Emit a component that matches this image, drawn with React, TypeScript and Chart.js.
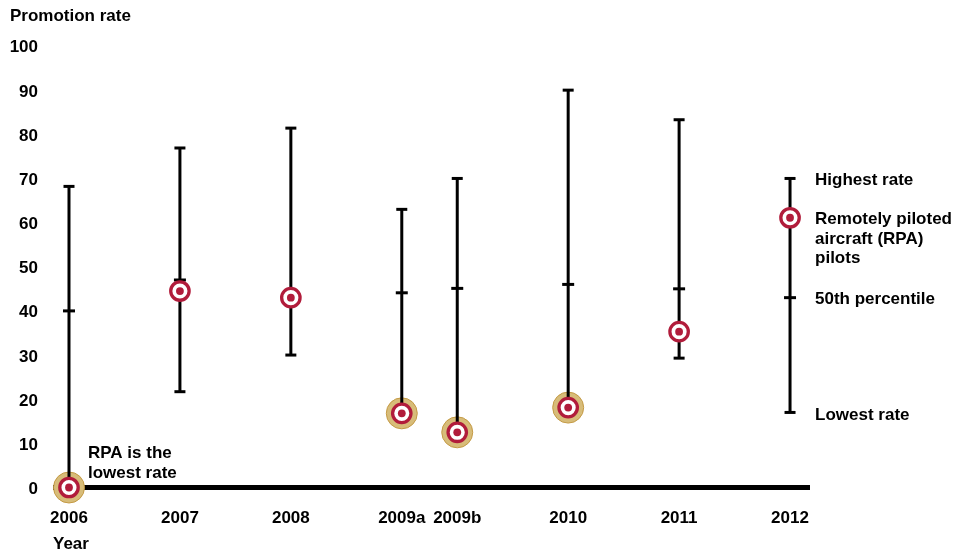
import { useEffect, useRef } from 'react';
import { Chart, registerables } from 'chart.js';

Chart.register(...registerables);

// ---- data ----
const categories = ['2006', '2007', '2008', '2009a', '2009b', '2010', '2011', '2012'];
const xPositions = [0, 1, 2, 3, 3.5, 4.5, 5.5, 6.5];
const highestRate = [68.2, 76.9, 81.4, 63.0, 70.0, 90.0, 83.3, 70.0];
const medianRate = [40.0, 47.0, 43.0, 44.1, 45.1, 46.0, 45.0, 43.0];
const lowestRate = [0, 21.7, 30.0, 16.8, 12.5, 18.1, 29.3, 17.0];
const rpaRate = [0, 44.5, 43.0, 16.8, 12.5, 18.1, 35.3, 61.1];
const rpaIsLowest = [true, false, false, true, true, true, false, false];
const yTicks = [0, 10, 20, 30, 40, 50, 60, 70, 80, 90, 100];

const legendLabels = {
  high: 'Highest rate',
  rpa: ['Remotely piloted', 'aircraft (RPA)', 'pilots'],
  median: '50th percentile',
  low: 'Lowest rate',
};
const annotationLines = ['RPA is the', 'lowest rate'];

const FONT = "'Liberation Sans', Arial, sans-serif";
const RED = '#b11c3b';
const HALO = '#d7bc79';
const HALO_EDGE = '#c49a45';

export default function App() {
  const ref = useRef<HTMLCanvasElement>(null);

  useEffect(() => {
    document.body.style.margin = '0';
    document.body.style.overflow = 'hidden';
    const canvas = ref.current;
    if (!canvas) return;

    const pts = (vals: number[]) => xPositions.map((x, i) => ({ x, y: vals[i] }));
    const rangeLine: { x: number; y: number | null }[] = [];
    xPositions.forEach((x, i) => {
      rangeLine.push({ x, y: lowestRate[i] }, { x, y: highestRate[i] }, { x, y: null });
    });
    const capPoints = [...pts(highestRate), ...pts(lowestRate)];
    const haloPoints = xPositions
      .map((x, i) => ({ x, y: rpaRate[i] }))
      .filter((_, i) => rpaIsLowest[i]);

    const legendIndex = categories.length - 1;
    const xMin = -0.1442;
    const xMax = 6.68;

    const textPlugin = {
      id: 'texts',
      afterDatasetsDraw(chart: any) {
        const { ctx, scales } = chart;
        const xs = scales.x;
        const ys = scales.y;
        const dy = 1.8;
        ctx.save();
        ctx.fillStyle = '#000';
        ctx.font = `bold 17px ${FONT}`;
        ctx.textBaseline = 'middle';
        ctx.textAlign = 'left';
        const lx = xs.getPixelForValue(xPositions[legendIndex]) + 25;
        ctx.fillText(legendLabels.high, lx, ys.getPixelForValue(highestRate[legendIndex]) + dy);
        const ry = ys.getPixelForValue(rpaRate[legendIndex]) + dy;
        legendLabels.rpa.forEach((t, i) => ctx.fillText(t, lx, ry + i * 19.5));
        ctx.fillText(legendLabels.median, lx, ys.getPixelForValue(medianRate[legendIndex]) + dy);
        ctx.fillText(legendLabels.low, lx, ys.getPixelForValue(lowestRate[legendIndex]) + dy + 1);
        const ax = xs.getPixelForValue(xPositions[0]) + 19;
        const zy = ys.getPixelForValue(0);
        ctx.fillText(annotationLines[0], ax, zy - 34);
        ctx.fillText(annotationLines[1], ax, zy - 14.5);
        ctx.restore();
      },
    };

    const chart = new Chart(canvas, {
      type: 'scatter',
      data: {
        datasets: [
          {
            type: 'scatter',
            label: 'dot',
            data: pts(rpaRate),
            pointRadius: 3.9,
            pointBackgroundColor: RED,
            pointBorderWidth: 0,
            order: 0,
            clip: false,
          } as any,
          {
            type: 'scatter',
            label: 'rpa',
            data: pts(rpaRate),
            pointRadius: 9.2,
            pointBackgroundColor: '#fff',
            pointBorderColor: RED,
            pointBorderWidth: 3.3,
            order: 1,
            clip: false,
          },
          {
            type: 'scatter',
            label: 'median',
            data: pts(medianRate),
            pointStyle: 'line',
            pointRadius: 6,
            pointBorderColor: '#000',
            pointBorderWidth: 3,
            order: 2,
            clip: false,
          },
          {
            type: 'scatter',
            label: 'caps',
            data: capPoints,
            pointStyle: 'line',
            pointRadius: 5.5,
            pointBorderColor: '#000',
            pointBorderWidth: 3,
            order: 3,
            clip: false,
          },
          {
            type: 'line',
            label: 'range',
            data: rangeLine,
            borderColor: '#000',
            borderWidth: 3,
            pointRadius: 0,
            spanGaps: false,
            order: 4,
            clip: false,
          } as any,
          {
            type: 'scatter',
            label: 'halo',
            data: haloPoints,
            pointRadius: 15.5,
            pointBackgroundColor: HALO,
            pointBorderColor: HALO_EDGE,
            pointBorderWidth: 1,
            order: 5,
            clip: false,
          },
          {
            type: 'line',
            label: 'baseline',
            data: [
              { x: xMin, y: 0 },
              { x: xMax, y: 0 },
            ],
            borderColor: '#000',
            borderWidth: 5,
            pointRadius: 0,
            order: 6,
            clip: false,
          } as any,
        ],
      },
      options: {
        animation: false,
        responsive: false,
        events: [],
        layout: { padding: { left: 10, right: 160, top: 0, bottom: -2 } },
        plugins: {
          legend: { display: false },
          tooltip: { enabled: false },
          title: {
            display: true,
            text: 'Promotion rate',
            align: 'start',
            color: '#000',
            font: { family: FONT, size: 17, weight: 'bold' },
            padding: { top: 6.5, bottom: 19.1 },
          },
        },
        scales: {
          x: {
            type: 'linear',
            min: xMin,
            max: xMax,
            grid: { display: false, drawTicks: false },
            border: { display: false },
            afterBuildTicks: (scale: any) => {
              scale.ticks = xPositions.map((v) => ({ value: v }));
            },
            afterFit: (scale: any) => {
              scale.height = 67.5;
            },
            ticks: {
              autoSkip: false,
              maxRotation: 0,
              padding: 21,
              color: '#000',
              font: { family: FONT, size: 17, weight: 'bold' },
              callback: (v: any) => {
                const i = xPositions.indexOf(Number(v));
                return i >= 0 ? categories[i] : '';
              },
            },
            title: {
              display: true,
              text: 'Year',
              align: 'start',
              color: '#000',
              font: { family: FONT, size: 17, weight: 'bold' },
              padding: { top: 0, bottom: 0 },
            },
          },
          y: {
            min: 0,
            max: 100,
            grid: { display: false, drawTicks: false },
            border: { display: false },
            afterBuildTicks: (scale: any) => {
              scale.ticks = yTicks.map((v) => ({ value: v }));
            },
            afterFit: (scale: any) => {
              scale.width = 43;
            },
            ticks: {
              padding: 15,
              labelOffset: 1.8,
              color: '#000',
              font: { family: FONT, size: 17, weight: 'bold' },
            },
          },
        },
      } as any,
      plugins: [textPlugin],
    });

    return () => chart.destroy();
  }, []);

  return (
    <div style={{ width: 970, height: 553 }}>
      <canvas ref={ref} width={970} height={553} style={{ display: 'block' }} />
    </div>
  );
}
